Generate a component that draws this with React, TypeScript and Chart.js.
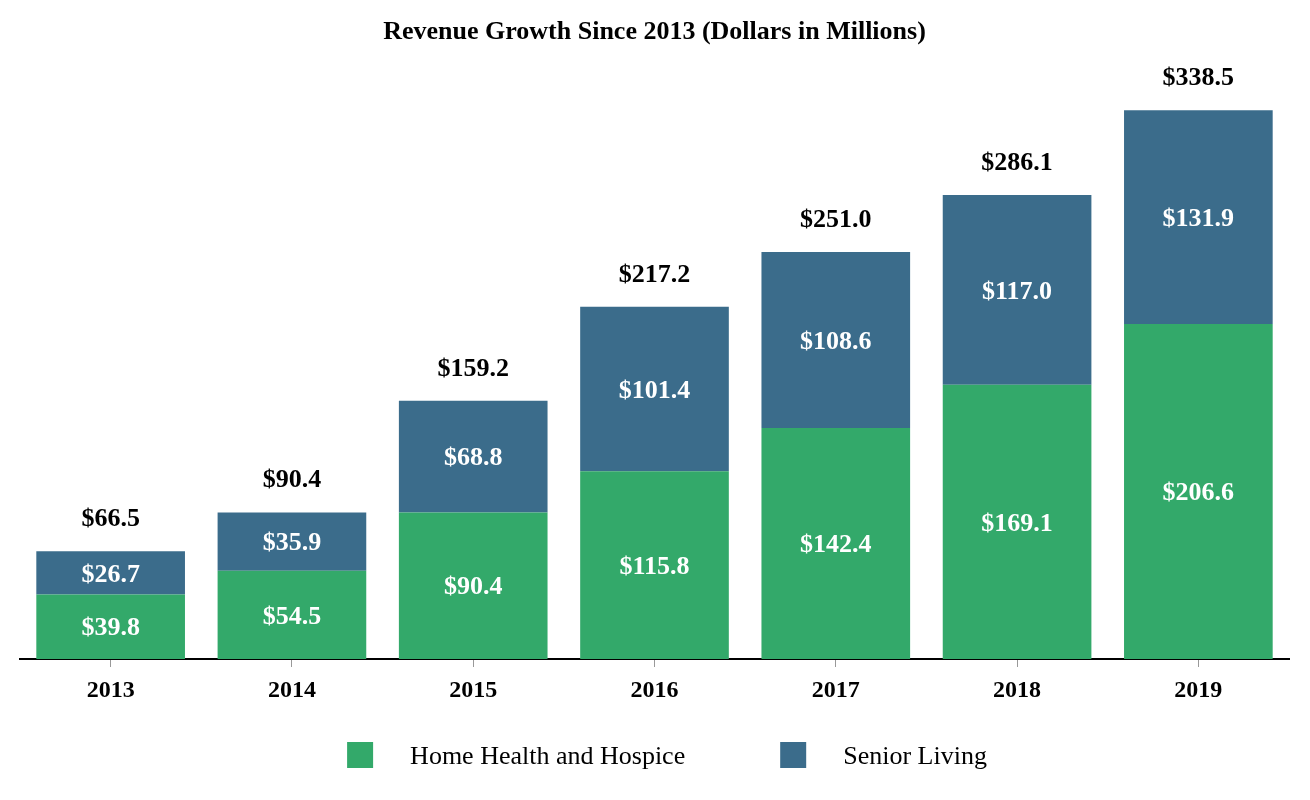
import React, { useEffect, useRef } from "react";
import { Chart, registerables } from "chart.js";

Chart.register(...registerables);

const categories = ["2013", "2014", "2015", "2016", "2017", "2018", "2019"];
const homeHealth = [39.8, 54.5, 90.4, 115.8, 142.4, 169.1, 206.6];
const seniorLiving = [26.7, 35.9, 68.8, 101.4, 108.6, 117.0, 131.9];
const totals = [66.5, 90.4, 159.2, 217.2, 251.0, 286.1, 338.5];
const seriesNames = ["Home Health and Hospice", "Senior Living"];
const titleText = "Revenue Growth Since 2013 (Dollars in Millions)";

const GREEN = "#33A96A";
const BLUE = "#3B6C8B";
const FONT = '"Liberation Serif", "Times New Roman", serif';

const labelsPlugin = {
  id: "valueLabels",
  afterDatasetsDraw(chart: any) {
    const ctx = chart.ctx;
    ctx.save();
    ctx.textAlign = "center";
    ctx.textBaseline = "middle";
    ctx.font = `bold 26px ${FONT}`;
    chart.data.datasets.forEach((ds: any, di: number) => {
      const meta = chart.getDatasetMeta(di);
      meta.data.forEach((bar: any, i: number) => {
        const top = Math.min(bar.y, bar.base);
        const bottom = Math.max(bar.y, bar.base);
        ctx.fillStyle = "#ffffff";
        ctx.fillText("$" + ds.data[i].toFixed(1), bar.x, (top + bottom) / 2 + 2);
      });
    });
    const lastMeta = chart.getDatasetMeta(chart.data.datasets.length - 1);
    lastMeta.data.forEach((bar: any, i: number) => {
      ctx.fillStyle = "#000000";
      ctx.fillText("$" + totals[i].toFixed(1), bar.x, bar.y - 32);
    });
    ctx.restore();
  },
};

const legendPlugin = {
  id: "customLegend",
  afterDraw(chart: any) {
    const ctx = chart.ctx;
    ctx.save();
    ctx.font = `26px ${FONT}`;
    ctx.textBaseline = "middle";
    ctx.textAlign = "left";
    const box = 26;
    const gap = 37;
    const itemGap = 95;
    const items = chart.data.datasets.map((ds: any) => ({
      label: ds.label,
      color: ds.backgroundColor,
      w: ctx.measureText(ds.label).width,
    }));
    let total = 0;
    items.forEach((it: any, i: number) => {
      total += box + gap + it.w + (i < items.length - 1 ? itemGap : 0);
    });
    let x = chart.width / 2 + 12 - total / 2;
    const cy = 755;
    items.forEach((it: any) => {
      ctx.fillStyle = it.color;
      ctx.fillRect(x, cy - box / 2, box, box);
      ctx.fillStyle = "#000";
      ctx.fillText(it.label, x + box + gap, cy + 2);
      x += box + gap + it.w + itemGap;
    });
    ctx.restore();
  },
};

export default function App() {
  const ref = useRef<HTMLCanvasElement | null>(null);
  useEffect(() => {
    if (!ref.current) return;
    const chart = new Chart(ref.current, {
      type: "bar",
      data: {
        labels: categories,
        datasets: [
          { label: seriesNames[0], data: homeHealth, backgroundColor: GREEN, borderWidth: 0 },
          { label: seriesNames[1], data: seniorLiving, backgroundColor: BLUE, borderWidth: 0 },
        ],
      },
      options: {
        animation: false,
        responsive: false,
        maintainAspectRatio: false,
        layout: { padding: { left: 20, right: 21, top: 0, bottom: 60 } },
        datasets: { bar: { categoryPercentage: 1, barPercentage: 0.82 } },
        plugins: {
          legend: { display: false },
          tooltip: { enabled: false },
          title: {
            display: true,
            text: titleText,
            color: "#000",
            font: { family: FONT, size: 26, weight: "bold", lineHeight: 1.2 },
            padding: { top: 17, bottom: 6 },
          },
        },
        scales: {
          x: {
            stacked: true,
            grid: { offset: false, drawOnChartArea: false, drawTicks: true, tickLength: 8, color: "#999" },
            border: { display: true, color: "#000", width: 2 },
            ticks: {
              color: "#000",
              padding: 9,
              font: { family: FONT, size: 24, weight: "bold" },
            },
            afterFit: (scale: any) => {
              scale.height = 81;
            },
          },
          y: {
            stacked: true,
            display: false,
            min: 0,
            max: 373,
          },
        },
      },
      plugins: [labelsPlugin, legendPlugin],
    });
    return () => chart.destroy();
  }, []);
  return (
    <div style={{ position: "fixed", left: 0, top: 0, width: 1310, height: 800, background: "#fff" }}>
      <canvas ref={ref} width={1310} height={800} style={{ display: "block" }} />
    </div>
  );
}
